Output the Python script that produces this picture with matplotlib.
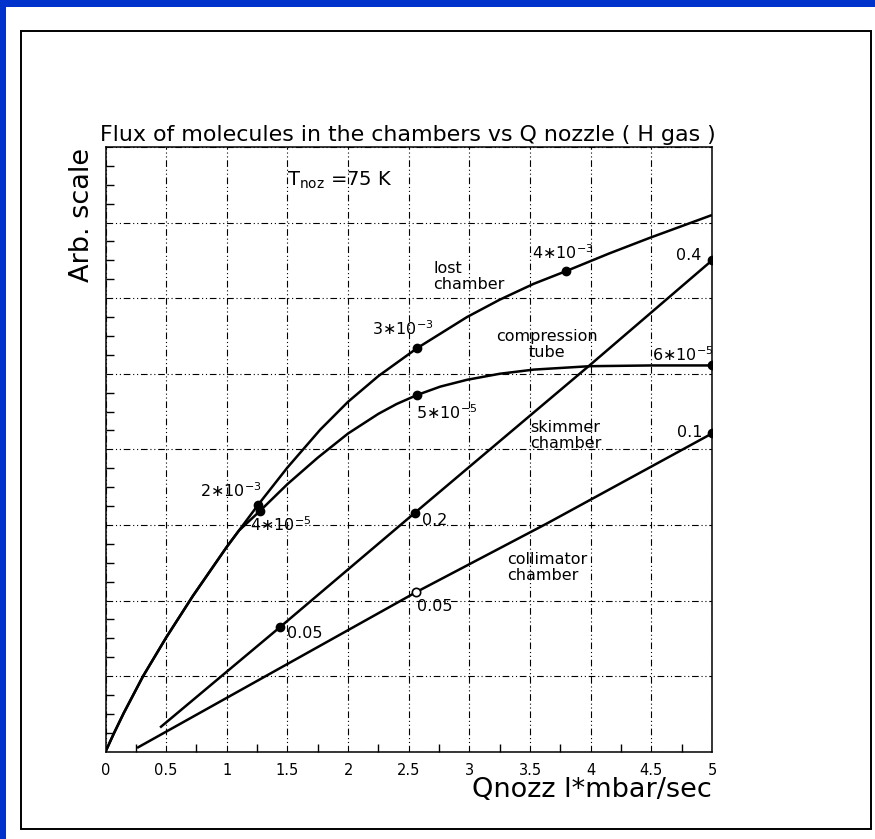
import matplotlib
matplotlib.use("Agg")
import matplotlib.pyplot as plt
from matplotlib.patches import Rectangle
from matplotlib.ticker import MultipleLocator

plt.rcParams['font.family'] = ['DejaVu Sans']
plt.rcParams['mathtext.default'] = 'regular'

# Flux curves (arbitrary units) versus nozzle throughput Q
q_lost = [0.0, 0.07, 0.15, 0.31, 0.50, 0.72, 1.00, 1.26, 1.50, 1.77, 2.00, 2.25, 2.57, 2.98,
          3.25, 3.53, 3.80, 4.15, 4.49, 5.00]
f_lost = [0.0, 0.245, 0.51, 1.00, 1.51, 2.06, 2.71, 3.27, 3.76, 4.26, 4.63, 4.97, 5.34, 5.75,
          5.98, 6.19, 6.36, 6.59, 6.80, 7.10]

q_comp = [0.0, 0.07, 0.15, 0.31, 0.50, 0.72, 1.00, 1.10, 1.27, 1.50, 1.75, 2.00, 2.25, 2.40,
          2.57, 2.76, 2.98, 3.25, 3.53, 3.99, 4.50, 5.00]
f_comp = [0.0, 0.245, 0.51, 1.00, 1.51, 2.06, 2.71, 2.925, 3.18, 3.54, 3.89, 4.21, 4.47, 4.60,
          4.72, 4.83, 4.92, 5.00, 5.055, 5.10, 5.11, 5.11]

q_skim = [0.45, 1.44, 2.55, 3.99, 5.00]
f_skim = [0.32, 1.65, 3.16, 5.11, 6.50]

q_coll = [0.26, 2.56, 3.64, 5.00]
f_coll = [0.05, 2.11, 3.02, 4.21]

# Marked working points on each curve
mq_lost, mf_lost = [1.26, 2.57, 3.80], [3.27, 5.34, 6.36]
mq_comp, mf_comp = [1.27, 2.57, 5.00], [3.18, 4.72, 5.11]
mq_skim, mf_skim = [1.44, 2.55, 5.00], [1.65, 3.16, 6.50]
mq_coll_open, mf_coll_open = [2.56], [2.11]
mq_coll, mf_coll = [5.00], [4.21]

x_ticks = [0, 0.5, 1, 1.5, 2, 2.5, 3, 3.5, 4, 4.5, 5]
x_ticklabels = ['0', '0.5', '1', '1.5', '2', '2.5', '3', '3.5', '4', '4.5', '5']

W, H = 875, 839
fig = plt.figure(figsize=(W / 100, H / 100), dpi=100)
fig.patch.set_facecolor('white')

# blue outer border and thin black frame
fig.patches.append(Rectangle((0, 0), 5.5 / W, 1, transform=fig.transFigure,
                             facecolor='#0033cc', edgecolor='none', zorder=0))
fig.patches.append(Rectangle((0, 1 - 7 / H), 1, 7 / H, transform=fig.transFigure,
                             facecolor='#0033cc', edgecolor='none', zorder=0))
fig.patches.append(Rectangle((20.7 / W, 1 - 829 / H), (871 - 20.7) / W, (829 - 31) / H,
                             transform=fig.transFigure, facecolor='none',
                             edgecolor='black', linewidth=1.4, zorder=1))

ax_l, ax_r, ax_t, ax_b = 105.5, 712, 147, 751.7
ax = fig.add_axes([ax_l / W, 1 - ax_b / H, (ax_r - ax_l) / W, (ax_b - ax_t) / H])
ax.set_xlim(0, 5)
ax.set_ylim(0, 8)

for s in ax.spines.values():
    s.set_linewidth(1.1)

ax.xaxis.set_major_locator(MultipleLocator(0.5))
ax.xaxis.set_minor_locator(MultipleLocator(0.25))
ax.yaxis.set_major_locator(MultipleLocator(1))
ax.yaxis.set_minor_locator(MultipleLocator(0.25))
ax.set_xticks(x_ticks)
ax.set_xticklabels(x_ticklabels)
ax.tick_params(axis='both', which='both', direction='in', top=False, right=False)
ax.tick_params(axis='both', which='major', length=0)
ax.tick_params(axis='both', which='minor', length=6, width=1)
ax.tick_params(axis='x', labelsize=10.5, pad=8)
ax.tick_params(axis='y', labelleft=False)

grid_style = (0, (6, 2.5, 1, 2.5, 1, 2.5))
ax.grid(True, which='major', color='black', linewidth=0.8, linestyle=grid_style)

lw = 1.8
for q, f in [(q_lost, f_lost), (q_comp, f_comp), (q_skim, f_skim), (q_coll, f_coll)]:
    ax.plot(q, f, color='black', linewidth=lw, solid_capstyle='butt',
            solid_joinstyle='round', zorder=3)

for mq, mf in [(mq_lost, mf_lost), (mq_comp, mf_comp), (mq_skim, mf_skim), (mq_coll, mf_coll)]:
    ax.plot(mq, mf, 'o', color='black', markersize=6, zorder=4)
ax.plot(mq_coll_open, mf_coll_open, 'o', markerfacecolor='white', markeredgecolor='black',
        markeredgewidth=1.2, markersize=6, zorder=4)

fs = 11.5
ax.text(0.78, 3.46, r'2$\ast$10$^{-3}$', fontsize=fs, va='center', ha='left')
ax.text(1.19, 3.00, r'4$\ast$10$^{-5}$', fontsize=fs, va='center', ha='left')
ax.text(2.20, 5.60, r'3$\ast$10$^{-3}$', fontsize=fs, va='center', ha='left')
ax.text(2.56, 4.49, r'5$\ast$10$^{-5}$', fontsize=fs, va='center', ha='left')
ax.text(3.515, 6.60, r'4$\ast$10$^{-3}$', fontsize=fs, va='center', ha='left')
ax.text(4.505, 5.25, r'6$\ast$10$^{-5}$', fontsize=fs, va='center', ha='left')
ax.text(4.70, 6.57, '0.4', fontsize=fs, va='center', ha='left')
ax.text(4.71, 4.22, '0.1', fontsize=fs, va='center', ha='left')
ax.text(2.61, 3.065, '0.2', fontsize=fs, va='center', ha='left')
ax.text(2.57, 1.92, '0.05', fontsize=fs, va='center', ha='left')
ax.text(1.50, 1.57, '0.05', fontsize=fs, va='center', ha='left')

ax.text(2.70, 6.29, 'lost\nchamber', fontsize=fs, va='center', ha='left', linespacing=1.05)
ax.text(3.64, 5.39, 'compression\ntube', fontsize=fs, va='center', ha='center', linespacing=1.05)
ax.text(3.50, 4.18, 'skimmer\nchamber', fontsize=fs, va='center', ha='left', linespacing=1.05)
ax.text(3.31, 2.44, 'collimator\nchamber', fontsize=fs, va='center', ha='left', linespacing=1.05)
ax.text(1.50, 7.56, r'T$_{noz}$ =75 K', fontsize=14, va='center', ha='left')

fig.text(100 / W, 1 - 135 / H, 'Flux of molecules in the chambers vs Q nozzle ( H gas )',
         fontsize=15.9, ha='left', va='center')
fig.text(82 / W, 1 - 148 / H, 'Arb. scale', fontsize=19.5, rotation=90,
         ha='center', va='top')
fig.text(712 / W, 1 - 790 / H, 'Qnozz l*mbar/sec', fontsize=19.5, ha='right', va='center')

fig.savefig('out.png', dpi=100)
